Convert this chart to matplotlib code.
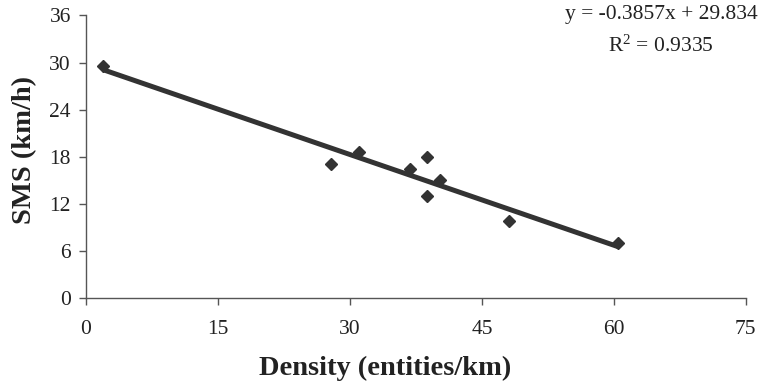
import numpy as np
import matplotlib
matplotlib.use('Agg')
import matplotlib.pyplot as plt

# dati
density = [1.97, 27.8, 31.06, 36.8, 38.7, 40.2, 38.7, 48.07, 60.5]
sms = [29.6, 17.0, 18.6, 16.4, 17.9, 15.0, 13.0, 9.83, 6.95]
slope = -0.3857
intercept = 29.834
r2 = 0.9335
xticks = [0, 15, 30, 45, 60, 75]
yticks = [0, 6, 12, 18, 24, 30, 36]

plt.rcParams['font.family'] = ['Liberation Serif', 'DejaVu Serif']

fig = plt.figure(figsize=(7.58, 3.87), dpi=100)
ax = fig.add_axes([0.1135, 0.2307, 0.8705, 0.7293])

# linea di tendenza
xs = np.array([min(density), max(density)])
ax.plot(xs, slope * xs + intercept, '-', color='#333333', linewidth=3.6,
        solid_capstyle='butt', zorder=2)
ax.plot(density, sms, 'D', color='#333333', markersize=6.5, zorder=3)

ax.set_xlim(0, 75)
ax.set_ylim(0, 36)
ax.set_xticks(xticks)
ax.set_yticks(yticks)

for s in ['top', 'right']:
    ax.spines[s].set_visible(False)
for s in ['left', 'bottom']:
    ax.spines[s].set_color('#555555')
    ax.spines[s].set_linewidth(1.0)

ax.tick_params(axis='both', direction='out', length=5, width=1.0,
               color='#555555', labelsize=15.5, labelcolor='#222222')
ax.tick_params(axis='x', pad=11)
ax.tick_params(axis='y', pad=6)

ax.set_xlabel('Density (entities/km)', fontsize=20.5, fontweight='bold',
              color='#222222', va='center', ha='center')
ax.set_ylabel('SMS (km/h)', fontsize=20.5, fontweight='bold',
              color='#222222', va='center', ha='center')
ax.xaxis.set_label_coords(0.453, -0.251)
ax.yaxis.set_label_coords(-0.093, 0.524)

eq = 'y = {:.4f}x + {:.3f}'.format(slope, intercept)
fig.text(661 / 758, 1 - 15 / 387, eq, ha='center', va='center',
         fontsize=15.5, color='#222222')
fig.text(661 / 758, 1 - 46 / 387, '$\\mathregular{R^2}$ = ' + '{:.4f}'.format(r2),
         ha='center', va='center', fontsize=15.5, color='#222222')

fig.savefig('out.png', dpi=100)
